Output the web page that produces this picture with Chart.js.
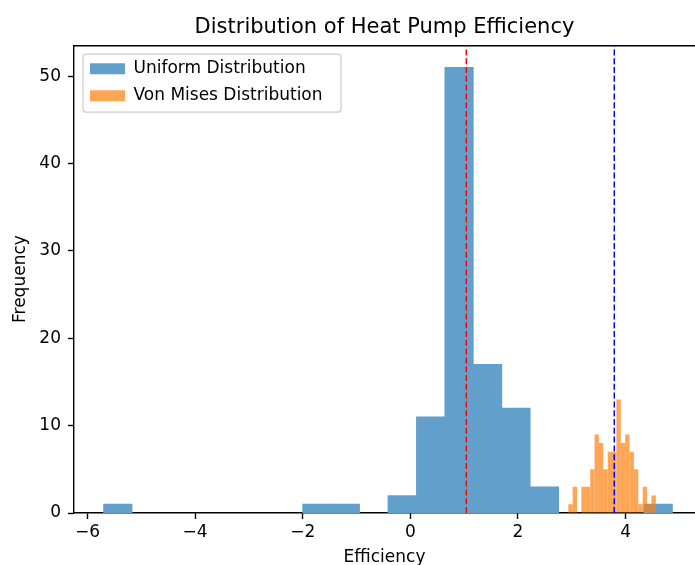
<!DOCTYPE html>
<html>
<head>
<meta charset="utf-8">
<script src="https://cdn.jsdelivr.net/npm/chart.js@4.4.1/dist/chart.umd.min.js"></script>
<style>
  html, body { margin: 0; padding: 0; background: #fff; }
  #wrap { width: 695px; height: 565px; }
</style>
</head>
<body>
<div id="wrap"><canvas id="histChart"></canvas></div>
<script>
// histogram bin centres + counts
const uniformBins = [-5.436, -4.907, -4.379, -3.850, -3.322, -2.793, -2.265, -1.736, -1.208, -0.679,
                     -0.151, 0.378, 0.906, 1.435, 1.963, 2.492, 3.020, 3.549, 4.077, 4.606];
const uniformCounts = [1, 0, 0, 0, 0, 0, 0, 1, 1, 0, 2, 11, 51, 17, 12, 3, 0, 0, 0, 1];

const vonMisesBins = [2.976, 3.057, 3.139, 3.220, 3.301, 3.383, 3.464, 3.545, 3.626, 3.708,
                      3.789, 3.870, 3.951, 4.033, 4.114, 4.196, 4.277, 4.358, 4.439, 4.521];
const vonMisesCounts = [1, 3, 0, 3, 3, 5, 9, 8, 5, 7, 7, 13, 8, 9, 7, 5, 1, 3, 1, 2];

const uniformMean = 1.04;
const vonMisesMean = 3.79;

const xTicks = [-6, -4, -2, 0, 2, 4];
const yTicks = [0, 10, 20, 30, 40, 50];
const xMin = -6.25, xMax = 5.29, yMax = 53.55;

// empty bins -> null so they keep their slot but draw nothing
const toPoints = (xs, ys) => xs.map((x, i) => ({x: x, y: ys[i] === 0 ? null : ys[i]}));
const minus = v => String(v).replace('-', '\u2212');

Chart.defaults.font.family = 'DejaVu Sans';
Chart.defaults.font.size = 17;
Chart.defaults.color = '#000';

// matplotlib style legend frame + move legend to upper left
const legendFrame = {
    id: 'legendFrame',
    afterLayout(chart) {
        const ca = chart.chartArea, lg = chart.legend;
        const w = lg.width, h = lg.height;
        lg.left = ca.left + 6;
        lg.top = ca.top + 5;
        lg.right = lg.left + w;
        lg.bottom = lg.top + h;
    },
    beforeDraw(chart) {
        const ca = chart.chartArea, ctx = chart.ctx;
        ctx.save();
        ctx.beginPath();
        ctx.roundRect(ca.left + 9, ca.top + 9, 258, 58, 3);
        ctx.fillStyle = 'rgba(255,255,255,0.8)';
        ctx.fill();
        ctx.lineWidth = 1.2;
        ctx.strokeStyle = '#cccccc';
        ctx.stroke();
        ctx.restore();
    }
};

const spine = {display: true, color: '#000', width: 1.4};

let histCtx = document.getElementById('histChart').getContext('2d');
let histChart = new Chart(histCtx, {
    type: 'bar',
    data: {
        datasets: [{
            label: 'Uniform Distribution',
            data: toPoints(uniformBins, uniformCounts),
            // tab:blue at alpha 0.7 on white, flattened so adjacent bars show no seams
            backgroundColor: 'rgb(98, 160, 203)',
            borderWidth: 0,
            inflateAmount: 0.4,
            xAxisID: 'x',
            order: 1,
            barPercentage: 1,
            categoryPercentage: 1,
            grouped: false
        }, {
            label: 'Von Mises Distribution',
            data: toPoints(vonMisesBins, vonMisesCounts),
            backgroundColor: 'rgba(255, 127, 14, 0.7)',
            borderWidth: 0,
            inflateAmount: 0,
            xAxisID: 'x2',
            order: 0,
            barPercentage: 1,
            categoryPercentage: 1,
            grouped: false
        }, {
            type: 'line',
            label: 'uniform mean',
            data: [{x: uniformMean, y: 0}, {x: uniformMean, y: yMax}],
            borderColor: 'red',
            borderWidth: 1.5,
            borderDash: [6, 2.8],
            pointRadius: 0,
            xAxisID: 'x',
            order: -1
        }, {
            type: 'line',
            label: 'von mises mean',
            data: [{x: vonMisesMean, y: 0}, {x: vonMisesMean, y: yMax}],
            borderColor: 'blue',
            borderWidth: 1.5,
            borderDash: [6, 2.8],
            pointRadius: 0,
            xAxisID: 'x',
            order: -1
        }]
    },
    options: {
        responsive: true,
        maintainAspectRatio: false,
        animation: false,
        layout: {padding: 0},
        scales: {
            x: {
                type: 'linear',
                position: 'bottom',
                min: xMin,
                max: xMax,
                offset: false,
                afterBuildTicks: s => { s.ticks = xTicks.map(v => ({value: v})); },
                afterFit: s => { s.height = 52; },
                ticks: {callback: minus, padding: 3, maxRotation: 0, autoSkip: false},
                grid: {drawOnChartArea: false, drawTicks: true, tickLength: 6, tickColor: '#000', tickWidth: 1.4, offset: false},
                border: spine,
                title: {display: true, text: 'Efficiency', padding: {top: 0, bottom: -3}}
            },
            x2: {
                type: 'linear',
                position: 'top',
                min: xMin,
                max: xMax,
                offset: false,
                afterBuildTicks: s => { s.ticks = xTicks.map(v => ({value: v})); },
                afterFit: s => { s.height = 0; },
                ticks: {display: false},
                grid: {drawOnChartArea: false, drawTicks: false, offset: false},
                border: spine
            },
            y: {
                type: 'linear',
                min: 0,
                max: yMax,
                afterBuildTicks: s => { s.ticks = yTicks.map(v => ({value: v})); },
                afterFit: s => { s.width = 74; },
                ticks: {padding: 7},
                grid: {drawOnChartArea: false, drawTicks: true, tickLength: 6, tickColor: '#000', tickWidth: 1.4},
                border: spine,
                title: {display: true, text: 'Frequency', padding: {top: 10, bottom: 0}}
            }
        },
        plugins: {
            title: {
                display: true,
                fullSize: false,
                text: 'Distribution of Heat Pump Efficiency',
                font: {size: 21, weight: 'normal'},
                color: '#000',
                padding: {top: 15, bottom: 5}
            },
            legend: {
                position: 'chartArea',
                align: 'start',
                labels: {
                    boxWidth: 35,
                    boxHeight: 11,
                    padding: 10,
                    color: '#000',
                    filter: item => item.datasetIndex < 2,
                    sort: (a, b) => a.datasetIndex - b.datasetIndex
                }
            },
            tooltip: {enabled: false}
        }
    },
    plugins: [legendFrame]
});
</script>
</body>
</html>
